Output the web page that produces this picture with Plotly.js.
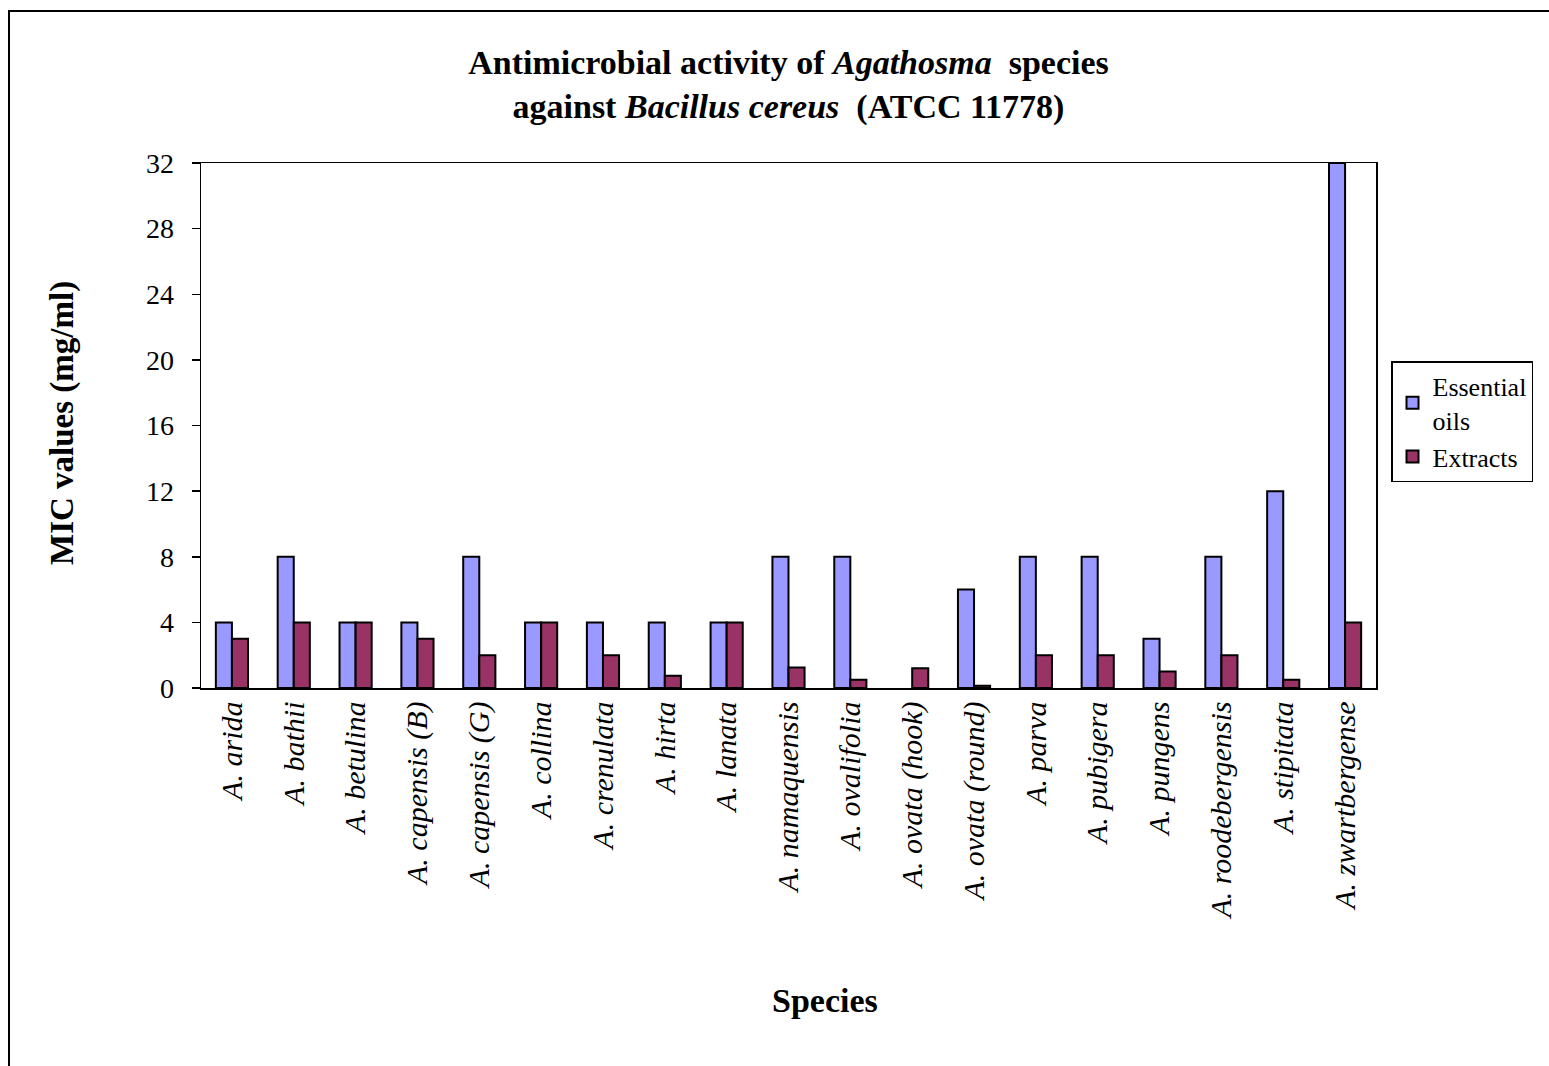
<!DOCTYPE html>
<html>
<head>
<meta charset="utf-8">
<script src="https://cdn.plot.ly/plotly-3.0.1.min.js"></script>
<style>html,body{margin:0;padding:0;background:#fff;}#chart{width:1549px;height:1066px;}</style>
</head>
<body>
<div id="chart"></div>
<script>
const species = ["A. arida","A. bathii","A. betulina","A. capensis (B)","A. capensis (G)","A. collina","A. crenulata","A. hirta","A. lanata","A. namaquensis","A. ovalifolia","A. ovata (hook)","A. ovata (round)","A. parva","A. pubigera","A. pungens","A. roodebergensis","A. stipitata","A. zwartbergense"];
const essentialOils = [4,8,4,4,8,4,4,4,4,8,8,null,6,8,8,3,8,12,32];
const extracts = [3,4,4,3,2,4,2,0.75,4,1.25,0.5,1.2,0.13,2,2,1,2,0.5,4];
const yTicks = [0,4,8,12,16,20,24,28,32];

const serif = "Liberation Serif, Times New Roman, serif";

const traces = [
  {type:"bar", name:"Essential<br>oils", x:species, y:essentialOils,
   marker:{color:"#9999FF", line:{color:"#000", width:2}}},
  {type:"bar", name:"Extracts", x:species, y:extracts,
   marker:{color:"#993366", line:{color:"#000", width:2}}}
];

const L = 201, R = 1376, T = 163, B = 688, W = 1549, H = 1066;
const px2x = p => (p - L) / (R - L);
const py2y = p => (B - p) / (B - T);

const layout = {
  width: W, height: H,
  margin: {l: L, r: W - R, t: T, b: H - B, pad: 0, autoexpand: false},
  paper_bgcolor: "#fff", plot_bgcolor: "#fff",
  font: {family: serif, color: "#000"},
  barmode: "group", bargap: 0.48, bargroupgap: 0,
  showlegend: true,
  title: {
    text: "<b>Antimicrobial activity of <i>Agathosma</i>  species<br>against <i>Bacillus cereus</i>  (ATCC 11778)</b>",
    font: {family: serif, size: 34, color: "#000"},
    x: 0.5, xref: "paper", xanchor: "center",
    y: 1 - 74 / H, yref: "container", yanchor: "top"
  },
  xaxis: {
    type: "category",
    showline: true, linecolor: "#000", linewidth: 1.5, mirror: true,
    showgrid: false, zeroline: false, ticks: "",
    tickangle: -90,
    tickfont: {family: serif, size: 30, style: "italic", color: "#000"}
  },
  yaxis: {
    range: [0, 32], tickvals: yTicks, ticktext: yTicks.map(String),
    showline: true, linecolor: "#000", linewidth: 1.5, mirror: true,
    showgrid: false, zeroline: false,
    ticks: "outside", ticklen: 8, tickwidth: 1.5, tickcolor: "#000",
    ticklabelstandoff: 12,
    tickfont: {family: serif, size: 28, color: "#000"}
  },
  legend: {
    x: px2x(1391), y: py2y(361), xanchor: "left", yanchor: "top",
    bordercolor: "#000", borderwidth: 1.5, bgcolor: "#fff",
    font: {family: serif, size: 26, color: "#000"},
    tracegroupgap: 0, itemwidth: 30
  },
  annotations: [
    {text: "<b>Species</b>", xref: "paper", yref: "paper", x: px2x(825), y: py2y(1000),
     xanchor: "center", yanchor: "middle", showarrow: false,
     font: {family: serif, size: 34, color: "#000"}},
    {text: "<b>MIC values (mg/ml)</b>", xref: "paper", yref: "paper", x: px2x(62), y: py2y(423),
     xanchor: "center", yanchor: "middle", showarrow: false, textangle: -90,
     font: {family: serif, size: 33, color: "#000"}}
  ],
  shapes: [
    {type: "rect", xref: "paper", yref: "paper", x0: px2x(9), x1: px2x(1700), y0: py2y(1200), y1: py2y(11),
     line: {color: "#000", width: 2}, fillcolor: "rgba(0,0,0,0)", layer: "below"}
  ]
};

Plotly.newPlot("chart", traces, layout, {displayModeBar: false, staticPlot: true});
</script>
</body>
</html>
